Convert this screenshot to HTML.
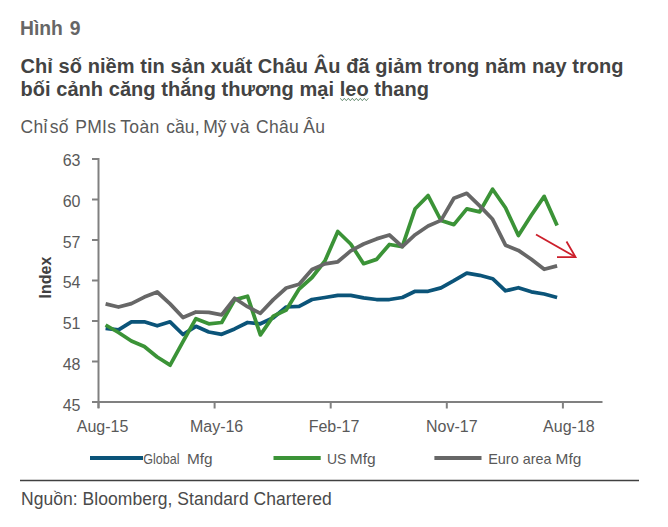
<!DOCTYPE html>
<html><head><meta charset="utf-8">
<style>
html,body{margin:0;padding:0;background:#fff;}
body{width:668px;height:527px;position:relative;overflow:hidden;font-family:"Liberation Sans",sans-serif;}
.t{position:absolute;white-space:nowrap;line-height:1;}
.sub{top:119px;font-size:17.5px;color:#595959;letter-spacing:0.3px;}
svg{position:absolute;left:0;top:0;}
</style></head><body>
<div class="t" id="fig" style="left:20px;top:17px;font-size:21px;word-spacing:1.6px;transform:scaleX(0.92);transform-origin:0 0;font-weight:bold;color:#666;">Hình 9</div>
<div class="t" id="t1" style="left:20.5px;top:56px;font-size:20px;font-weight:bold;color:#434343;letter-spacing:0.07px;">Chỉ số niềm tin sản xuất Châu Âu đã giảm trong năm nay trong</div>
<div class="t" id="t2" style="left:20.5px;top:79px;font-size:20px;font-weight:bold;color:#434343;letter-spacing:0.05px;">bối cảnh căng thắng thương mại leo thang</div>
<div class="t sub" style="left:20.6px;">Chỉ</div><div class="t sub" style="left:49.8px;">số</div><div class="t sub" style="left:75.2px;">PMIs</div><div class="t sub" style="left:120.3px;">Toàn</div><div class="t sub" style="left:166.2px;letter-spacing:0.1px;">cầu,</div><div class="t sub" style="left:203.3px;letter-spacing:0;">Mỹ</div><div class="t sub" style="left:230.6px;">và</div><div class="t sub" style="left:256.1px;">Châu</div><div class="t sub" style="left:303.2px;">Âu</div>
<div class="t" id="src" style="left:21px;top:491px;font-size:17.5px;color:#4a4a4a;letter-spacing:0.04px;">Nguồn: Bloomberg, Standard Chartered</div>
<svg width="668" height="527" viewBox="0 0 668 527">
<path d="M340.3 98.3 l2 2.4 l2 -2.4 l2 2.4 l2 -2.4 l2 2.4 l2 -2.4 l2 2.4 l2 -2.4 l2 2.4 l2 -2.4 l2 2.4 l2 -2.4 l2 2.4 l2 -2.4" fill="none" stroke="#3a6a48" stroke-width="0.75"/>
<g stroke="#808080" stroke-width="2" fill="none">
<line x1="98.5" y1="158.0" x2="98.5" y2="408"/>
<line x1="92" y1="402.0" x2="602.5" y2="402.0"/>
<line x1="92" y1="159.0" x2="99" y2="159.0"/><line x1="92" y1="199.5" x2="99" y2="199.5"/><line x1="92" y1="240.0" x2="99" y2="240.0"/><line x1="92" y1="280.5" x2="99" y2="280.5"/><line x1="92" y1="321.0" x2="99" y2="321.0"/><line x1="92" y1="361.5" x2="99" y2="361.5"/><line x1="92" y1="402.0" x2="99" y2="402.0"/><line x1="98.5" y1="402.0" x2="98.5" y2="408.5"/><line x1="214.6" y1="402.0" x2="214.6" y2="408.5"/><line x1="330.7" y1="402.0" x2="330.7" y2="408.5"/><line x1="446.8" y1="402.0" x2="446.8" y2="408.5"/><line x1="562.9" y1="402.0" x2="562.9" y2="408.5"/>
</g>
<g font-family="Liberation Sans" font-size="16" fill="#595959"><text x="80.5" y="166.1" text-anchor="end">63</text><text x="80.5" y="206.8" text-anchor="end">60</text><text x="80.5" y="247.6" text-anchor="end">57</text><text x="80.5" y="288.4" text-anchor="end">54</text><text x="80.5" y="329.1" text-anchor="end">51</text><text x="80.5" y="369.9" text-anchor="end">48</text><text x="80.5" y="410.6" text-anchor="end">45</text><text x="102.5" y="431.5" text-anchor="middle">Aug-15</text><text x="216.6" y="431.5" text-anchor="middle">May-16</text><text x="334.0" y="431.5" text-anchor="middle">Feb-17</text><text x="451.8" y="431.5" text-anchor="middle">Nov-17</text><text x="568.9" y="431.5" text-anchor="middle">Aug-18</text></g>
<text transform="translate(50.5,277.5) rotate(-90)" text-anchor="middle" font-family="Liberation Sans" font-weight="bold" font-size="16" fill="#404040">Index</text>
<g fill="none" stroke-width="3.75" stroke-linejoin="round" stroke-linecap="butt">
<polyline stroke="#0b5479" points="105.6,328.3 118.5,329.9 131.4,321.8 144.3,321.8 157.2,325.8 170.1,321.8 183.0,334.5 195.9,326.3 208.8,332.0 221.7,334.3 234.6,328.9 247.5,322.5 260.4,323.8 273.3,317.8 286.2,307.0 299.1,306.4 312.0,299.5 324.9,297.5 337.8,295.3 350.7,295.3 363.6,297.8 376.5,299.5 389.4,299.5 402.3,297.5 415.2,291.3 428.1,291.3 441.0,287.9 453.9,280.7 466.8,273.1 479.7,275.3 492.6,278.7 505.5,290.8 518.4,287.7 531.3,291.8 544.2,294.0 557.1,297.5"/>
<polyline stroke="#3b9337" points="105.6,325.0 118.5,332.5 131.4,341.0 144.3,346.5 157.2,357.0 170.1,365.2 183.0,341.6 195.9,318.7 208.8,323.8 221.7,322.5 234.6,299.9 247.5,296.2 260.4,334.9 273.3,316.1 286.2,310.0 299.1,289.0 312.0,277.5 324.9,261.0 337.8,231.5 350.7,244.0 363.6,263.7 376.5,259.4 389.4,244.5 402.3,246.6 415.2,208.7 428.1,195.6 441.0,220.5 453.9,224.6 466.8,208.9 479.7,211.8 492.6,189.2 505.5,207.8 518.4,235.5 531.3,215.3 544.2,196.4 557.1,225.5"/>
<polyline stroke="#676767" points="105.6,303.9 118.5,307.0 131.4,303.6 144.3,297.1 157.2,292.0 170.1,303.9 183.0,317.5 195.9,312.0 208.8,312.3 221.7,314.8 234.6,298.3 247.5,306.7 260.4,313.3 273.3,299.6 286.2,288.0 299.1,284.2 312.0,269.5 324.9,263.9 337.8,261.8 350.7,250.9 363.6,244.0 376.5,238.9 389.4,235.0 402.3,246.6 415.2,234.7 428.1,226.0 441.0,220.4 453.9,198.2 466.8,193.3 479.7,205.9 492.6,219.3 505.5,245.2 518.4,250.4 531.3,259.3 544.2,269.3 557.1,265.9"/>
</g>
<g stroke="#cc1f2b" stroke-width="1.8" fill="none">
<line x1="536" y1="234.5" x2="575.5" y2="257"/>
<polyline points="566.5,241.5 575.5,257 557,257.2"/>
</g>
<g stroke-width="4">
<line x1="90" y1="458" x2="143" y2="458" stroke="#0b5479"/>
<line x1="273.5" y1="458" x2="320.7" y2="458" stroke="#3b9337"/>
<line x1="434.4" y1="458" x2="481.5" y2="458" stroke="#676767"/>
</g>
<g font-family="Liberation Sans" font-size="14.5" fill="#595959">
<text x="143.2" y="463.5" textLength="36.3" lengthAdjust="spacingAndGlyphs">Global</text>
<text x="186.9" y="463.5" textLength="25.6" lengthAdjust="spacingAndGlyphs">Mfg</text>
<text x="326.9" y="463.5" textLength="19.4" lengthAdjust="spacingAndGlyphs">US</text>
<text x="349.7" y="463.5" textLength="25.9" lengthAdjust="spacingAndGlyphs">Mfg</text>
<text x="488.2" y="463.5" textLength="30.5" lengthAdjust="spacingAndGlyphs">Euro</text>
<text x="522.7" y="463.5" textLength="28.7" lengthAdjust="spacingAndGlyphs">area</text>
<text x="555.6" y="463.5" textLength="25.7" lengthAdjust="spacingAndGlyphs">Mfg</text>
</g>
<line x1="20" y1="480.5" x2="639" y2="480.5" stroke="#404040" stroke-width="1.3"/>
</svg>
</body></html>
